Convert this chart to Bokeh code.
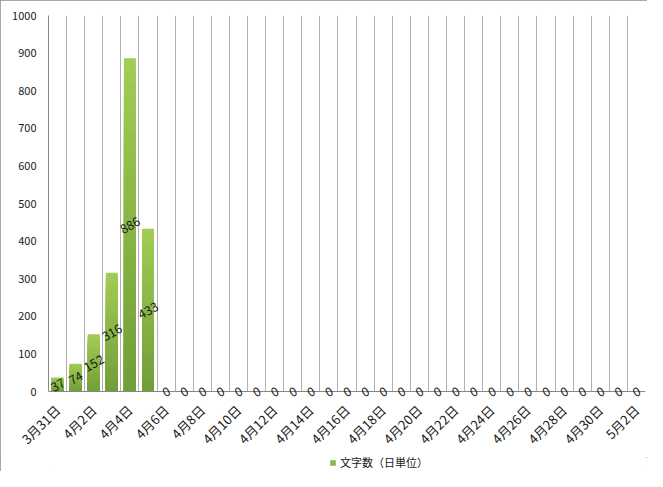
import numpy as np
from bokeh.plotting import figure
from bokeh.layouts import column
from bokeh.models import (Range1d, FixedTicker, Legend, LegendItem, ColumnDataSource,
                          LabelSet, BoxAnnotation, Span)
from bokeh.core.properties import value
from bokeh.embed import file_html
from bokeh.resources import INLINE

# ---- data ----
categories = ["3月31日"] + [f"4月{d}日" for d in range(1, 31)] + ["5月1日", "5月2日"]
counts = [37, 74, 152, 316, 886, 433] + [0] * 27
series_name = "文字数（日単位）"
y_ticks = list(range(0, 1001, 100))

FONT = "Noto Sans CJK JP"
n = len(categories)
xs = np.arange(n)
vals = np.array(counts, dtype=float)

# frame: 384 px tall, value 0 sits 8 px above the frame bottom
Y_MIN = -8 * 1000 / 376
p = figure(width=647, height=457, output_backend="svg", toolbar_location=None,
           x_range=Range1d(-0.5, n - 0.5), y_range=Range1d(Y_MIN, 1000),
           min_border_left=48, min_border_right=2, min_border_top=15, min_border_bottom=58)
p.outline_line_color = None
p.background_fill_color = "white"
p.border_fill_color = "white"

# grid (vertical lines at category boundaries)
p.ygrid.grid_line_color = None
p.xgrid.ticker = FixedTicker(ticks=[k - 0.5 for k in range(n + 1)])
p.xgrid.grid_line_color = "#b0b0b0"
p.xgrid.grid_line_width = 1
# keep grid lines from running below the value axis
p.add_layout(BoxAnnotation(top=0, fill_color="white", fill_alpha=1.0,
                           line_color=None, level="underlay"))

# gradient bars (dark bottom -> light top): overlapping bars from each value
N = 40
c0 = np.array([0x72, 0x9E, 0x38])
c1 = np.array([0xA2, 0xCD, 0x56])
for k in range(N - 1, -1, -1):
    t = (k + 0.5) / N
    c = (c0 + (c1 - c0) * t).astype(int)
    col = "#%02x%02x%02x" % tuple(c)
    src = ColumnDataSource(dict(x=xs, t=vals * (k + 1) / N))
    p.vbar(x="x", bottom=0, top="t", width=0.66, source=src,
           fill_color=col, line_color=None)

# category axis line at value 0
p.add_layout(Span(location=0, dimension="width", line_color="#868686", line_width=1))

# data labels at bar centre, rotated
lab = ColumnDataSource(dict(x=xs, y=vals / 2, s=[str(c) for c in counts]))
p.add_layout(LabelSet(x="x", y="y", text="s", source=lab, angle=0.51,
                      text_align="center", text_baseline="middle",
                      text_font=value(FONT), text_font_size="12.5px",
                      text_color="#1a1a1a"))

# axes
p.xaxis.ticker = FixedTicker(ticks=list(range(0, n, 2)))
p.xaxis.major_label_overrides = {i: categories[i] for i in range(0, n, 2)}
p.xaxis.major_label_orientation = np.pi / 4
p.yaxis.ticker = FixedTicker(ticks=y_ticks)
p.yaxis.bounds = (0, 1000)
for ax in (p.xaxis, p.yaxis):
    ax.axis_line_color = "#868686"
    ax.major_tick_out = 0
    ax.major_tick_in = 0
    ax.minor_tick_out = 0
    ax.minor_tick_in = 0
    ax.major_label_text_font = FONT
    ax.major_label_text_color = "#1a1a1a"
p.xaxis.axis_line_color = None
p.xaxis.major_label_text_font_size = "13px"
p.yaxis.major_label_text_font_size = "11px"
p.yaxis.major_label_standoff = 12
p.xaxis.major_label_standoff = 8

# legend strip (separate small figure so the main plot area keeps its size)
lf = figure(width=647, height=14, output_backend="svg", toolbar_location=None,
            x_range=Range1d(0, 1), y_range=Range1d(0, 1),
            min_border_left=0, min_border_right=0, min_border_top=0, min_border_bottom=0)
lf.axis.visible = False
lf.grid.visible = False
lf.outline_line_color = None
lf.border_fill_color = "white"
leg_src = ColumnDataSource(dict(x=xs[:1], t=vals[:1]))
lr = lf.vbar(x="x", top="t", width=0.5, source=leg_src, fill_color="#8ab748",
             line_color=None, visible=False)
legend = Legend(items=[LegendItem(label=series_name, renderers=[lr])],
                orientation="horizontal", location=(281, 1),
                label_text_font=FONT, label_text_font_size="11px",
                label_text_color="#1a1a1a", glyph_width=7, glyph_height=7,
                label_height=12, border_line_color=None, background_fill_alpha=0,
                inactive_fill_alpha=0, padding=0, label_standoff=4, margin=0)
lf.add_layout(legend)

layout = column(p, lf, spacing=0)
layout.styles = {"outline": "1px solid #8c8c8c", "outline-offset": "-1px"}

open("out.html", "w").write(file_html(layout, INLINE))
